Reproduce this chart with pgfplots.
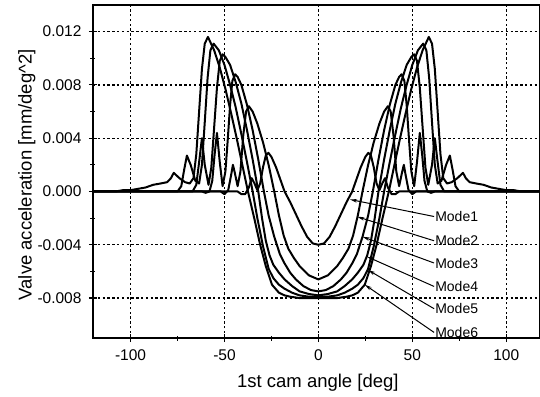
\documentclass[border=0pt]{standalone}
\usepackage{pgfplots}
\pgfplotsset{compat=1.18}
\usepackage{fontspec}
\setmainfont{Liberation Sans}
\usetikzlibrary{arrows.meta}
\begin{document}
\begin{tikzpicture}
\begin{axis}[name=ax,
  scale only axis, width=447pt, height=333pt,
  xmin=-120, xmax=118, ymin=-0.011, ymax=0.014,
  xtick={-100,-50,0,50,100}, xticklabels={-100,-50,0,50,100},
  ytick={-0.008,-0.004,0,0.004,0.008,0.012},
  yticklabels={-0.008,-0.004,0.000,0.004,0.008,0.012},
  scaled y ticks=false,
  minor x tick num=1, minor y tick num=1,
  tick pos=left, tick align=center,
  major tick length=8pt, minor tick length=5pt,
  every tick/.style={black, line width=1.1pt},
  axis line style={line width=1.4pt},
  grid=major,
  major grid style={black, line width=1.3pt, dash pattern=on 2.4pt off 2.4pt},
  tick label style={font=\fontsize{15.5}{18}\selectfont},
  yticklabel style={xshift=-4pt},
  xticklabel style={yshift=-4pt},
  xlabel={1st cam angle [deg]},
  ylabel={Valve acceleration [mm/deg\^{}2]},
  label style={font=\fontsize{18.5}{22}\selectfont},
  xlabel style={at={(axis description cs:0.503,-0.135)}, anchor=center},
  ylabel style={at={(axis description cs:-0.148,0.49)}, anchor=center},
  clip=false,
  every axis plot post/.append style={black, solid, mark=none, line width=2pt, line join=round},
]
% Mode1
\addplot coordinates {(-120,0)(-43,0)(-41,-0.0002)(-39,-0.0002)(-37,0.0003)(-35.5,0.0010)(-34,0.0006)(-32.5,0.0001)(-31,0.0006)(-29.5,0.0018)(-28,0.0027)(-26.6,0.0029)(-25,0.0026)(-22.5,0.0018)(-20,0.0008)(-18,0)(-15,-0.0008)(-12,-0.0017)(-9,-0.0026)(-6,-0.0034)(-3,-0.0039)(0,-0.0040)
(3,-0.0039)(6,-0.0034)(9,-0.0026)(12,-0.0017)(15,-0.0008)(18,0)(20,0.0008)(22.5,0.0018)(25,0.0026)(26.6,0.0029)(28,0.0027)(29.5,0.0018)(31,0.0006)(32.5,0.0001)(34,0.0006)(35.5,0.0010)(37,0.0003)(39,-0.0002)(41,-0.0002)(43,0)(118,0)};
% Mode2
\addplot coordinates {(-120,0)(-52,0)(-50,-0.0002)(-48,0.0001)(-46.5,0.0012)(-45.5,0.0020)(-44.5,0.0014)(-43,0.0004)(-41.5,0.0015)(-40,0.0042)(-38.5,0.0060)(-37,0.0064)(-35,0.0060)(-32.5,0.0051)(-29.5,0.0037)(-26.5,0.0020)(-23.5,0)(-21,-0.0018)(-18.5,-0.0033)(-16,-0.0043)(-13,-0.0050)(-10,-0.0056)(-5,-0.0063)(0,-0.0066)
(5,-0.0063)(10,-0.0056)(13,-0.0050)(16,-0.0043)(18.5,-0.0033)(21,-0.0018)(23.5,0)(26.5,0.0020)(29.5,0.0037)(32.5,0.0051)(35,0.0060)(37,0.0064)(38.5,0.0060)(40,0.0042)(41.5,0.0015)(43,0.0004)(44.5,0.0014)(45.5,0.0020)(46.5,0.0012)(48,0.0001)(50,-0.0002)(52,0)(118,0)};
% Mode3
\addplot coordinates {(-120,0)(-62,0)(-60,-0.0001)(-58,0)(-56.5,0.0008)(-55.3,0.0027)(-54,0.0044)(-52.5,0.0022)(-51,0.0004)(-49.5,0.0015)(-48.3,0.0038)(-47,0.0065)(-45.8,0.0083)(-44.3,0.0088)(-43,0.0086)(-41,0.0080)(-38,0.0065)(-35,0.0046)(-32,0.0024)(-29,0)(-26.5,-0.0018)(-23.5,-0.0034)(-20.5,-0.0047)(-18,-0.0054)(-15,-0.0061)(-12,-0.0066)(-8,-0.0071)(-4,-0.0074)(0,-0.0075)
(4,-0.0074)(8,-0.0071)(12,-0.0066)(15,-0.0061)(18,-0.0054)(20.5,-0.0047)(23.5,-0.0034)(26.5,-0.0018)(29,0)(32,0.0024)(35,0.0046)(38,0.0065)(41,0.0080)(43,0.0086)(44.3,0.0088)(45.8,0.0083)(47,0.0065)(48.3,0.0038)(49.5,0.0015)(51,0.0004)(52.5,0.0022)(54,0.0044)(55.3,0.0027)(56.5,0.0008)(58,0)(60,-0.0001)(62,0)(118,0)};
% Mode4
\addplot coordinates {(-120,0)(-67,0)(-65,0.0005)(-63.5,0.0022)(-62,0.0040)(-60.5,0.0020)(-58.5,0.0005)(-57,0.0018)(-55.5,0.0048)(-54,0.0078)(-52.5,0.0098)(-51,0.0103)(-49.5,0.0101)(-47,0.0095)(-44,0.0082)(-41,0.0066)(-38,0.0046)(-35,0.0024)(-32,0)(-30,-0.0020)(-28,-0.0037)(-26,-0.0048)(-24,-0.0055)(-21,-0.0061)(-18,-0.0066)(-14,-0.0071)(-10,-0.0075)(-5,-0.0077)(0,-0.0078)
(5,-0.0077)(10,-0.0075)(14,-0.0071)(18,-0.0066)(21,-0.0061)(24,-0.0055)(26,-0.0048)(28,-0.0037)(30,-0.0020)(32,0)(35,0.0024)(38,0.0046)(41,0.0066)(44,0.0082)(47,0.0095)(49.5,0.0101)(51,0.0103)(52.5,0.0098)(54,0.0078)(55.5,0.0048)(57,0.0018)(58.5,0.0005)(60.5,0.0020)(62,0.0040)(63.5,0.0022)(65,0.0005)(67,0)(118,0)};
% Mode5
\addplot coordinates {(-120,0)(-75,0)(-73,0.0004)(-71.5,0.0016)(-70,0.0027)(-68,0.0020)(-65.5,0.0008)(-63.5,0.0006)(-62,0.0020)(-60.5,0.0052)(-59,0.0085)(-57.5,0.0106)(-55.8,0.0111)(-53,0.0106)(-50,0.0095)(-47,0.0080)(-44,0.0063)(-41,0.0043)(-38,0.0022)(-35,0)(-32.5,-0.0020)(-29.5,-0.0041)(-26.5,-0.0058)(-24,-0.0065)(-21,-0.0070)(-18,-0.0073)(-14,-0.0076)(-10,-0.0078)(-5,-0.0079)(0,-0.0079)
(5,-0.0079)(10,-0.0078)(14,-0.0076)(18,-0.0073)(21,-0.0070)(24,-0.0065)(26.5,-0.0058)(29.5,-0.0041)(32.5,-0.0020)(35,0)(38,0.0022)(41,0.0043)(44,0.0063)(47,0.0080)(50,0.0095)(53,0.0106)(55.8,0.0111)(57.5,0.0106)(59,0.0085)(60.5,0.0052)(62,0.0020)(63.5,0.0006)(65.5,0.0008)(68,0.0020)(70,0.0027)(71.5,0.0016)(73,0.0004)(75,0)(118,0)};
% Mode6
\addplot coordinates {(-120,0)(-108,0)(-104,0.0001)(-100,0.0001)(-96,0.0002)(-92,0.0003)(-88,0.0005)(-84,0.0006)(-80.5,0.0007)(-78.5,0.0010)(-77,0.0014)(-74,0.0010)(-71,0.0007)(-68.5,0.0006)(-66.5,0.0010)(-65,0.0028)(-63.5,0.0060)(-62,0.0092)(-60.5,0.0111)(-58.8,0.0116)(-55.5,0.0106)(-52.5,0.0093)(-49.5,0.0077)(-46.5,0.0059)(-43.5,0.0040)(-40.5,0.0020)(-37.5,0)(-34,-0.0021)(-31,-0.0040)(-28,-0.0056)(-24.7,-0.0070)(-21,-0.0076)(-18,-0.0078)(-15,-0.0079)(-10,-0.0080)(-5,-0.0080)(0,-0.0080)
(5,-0.0080)(10,-0.0080)(15,-0.0079)(18,-0.0078)(21,-0.0076)(24.7,-0.0070)(28,-0.0056)(31,-0.0040)(34,-0.0021)(37.5,0)(40.5,0.0020)(43.5,0.0040)(46.5,0.0059)(49.5,0.0077)(52.5,0.0093)(55.5,0.0106)(58.8,0.0116)(60.5,0.0111)(62,0.0092)(63.5,0.0060)(65,0.0028)(66.5,0.0010)(68.5,0.0006)(71,0.0007)(74,0.0010)(77,0.0014)(78.5,0.0010)(80.5,0.0007)(84,0.0006)(88,0.0005)(92,0.0003)(96,0.0002)(100,0.0001)(104,0.0001)(108,0)(118,0)};
% annotations
\begin{scope}[every node/.style={font=\fontsize{14}{16}\selectfont, anchor=west, inner sep=1pt}]
\node (m1) at (axis cs:61.6,-0.00188) {Mode1};
\node (m2) at (axis cs:61.6,-0.00370) {Mode2};
\node (m3) at (axis cs:61.6,-0.00537) {Mode3};
\node (m4) at (axis cs:61.6,-0.00713) {Mode4};
\node (m5) at (axis cs:61.6,-0.00880) {Mode5};
\node (m6) at (axis cs:61.6,-0.01058) {Mode6};
\end{scope}
\begin{scope}[line width=1pt, -{Stealth[length=7pt,width=3.5pt]}]
\draw (m1.west) -- (axis cs:16.8,-0.0006);
\draw (m2.west) -- (axis cs:20.7,-0.0019);
\draw (m3.west) -- (axis cs:23.5,-0.0034);
\draw (m4.west) -- (axis cs:26.0,-0.0049);
\draw (m5.west) -- (axis cs:26.5,-0.0059);
\draw (m6.west) -- (axis cs:24.7,-0.0070);
\end{scope}
\end{axis}
\pgfresetboundingbox
\path[use as bounding box] ([shift={(-93pt,-58pt)}]ax.south west) rectangle ([shift={(0pt,5pt)}]ax.north east);
\end{tikzpicture}
\end{document}
